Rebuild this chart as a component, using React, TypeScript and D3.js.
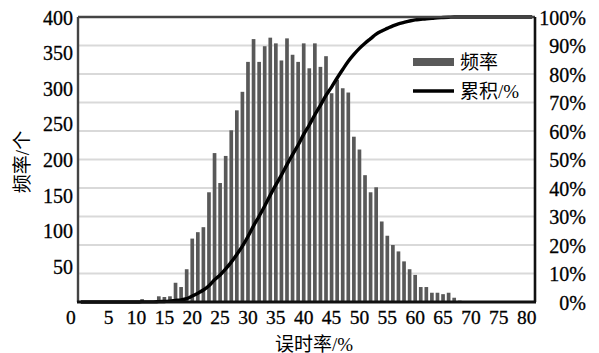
import React from 'react';
import * as d3 from 'd3';

// 误时率 categories (%), one bar per integer value
const categories = [
  0, 1, 2, 3, 4, 5, 6, 7, 8, 9, 10, 11, 12, 13, 14, 15, 16, 17, 18, 19,
  20, 21, 22, 23, 24, 25, 26, 27, 28, 29, 30, 31, 32, 33, 34, 35, 36, 37, 38, 39,
  40, 41, 42, 43, 44, 45, 46, 47, 48, 49, 50, 51, 52, 53, 54, 55, 56, 57, 58, 59,
  60, 61, 62, 63, 64, 65, 66, 67, 68, 69, 70, 71, 72, 73, 74, 75, 76, 77, 78, 79,
  80, 81,
];

// 频率 (count per category)
const frequency = [
  0, 0, 0, 0, 0, 0, 0, 0, 0, 0, 0, 4, 0, 0, 8, 7, 8, 27, 21, 46,
  89, 98, 105, 154, 209, 167, 205, 241, 269, 295, 337, 369, 337, 359, 371, 363, 339, 370, 347, 337,
  363, 328, 363, 330, 345, 293, 312, 300, 294, 232, 214, 178, 154, 161, 113, 93, 80, 71, 57, 46,
  38, 21, 21, 13, 13, 11, 13, 6, 2, 1, 1, 0, 0, 0, 0, 0, 0, 0, 0, 0,
  0, 0,
];

// 累积/% (cumulative percentage per category)
const cumulative = [
  0, 0, 0, 0, 0, 0, 0, 0, 0, 0, 0, 0.05, 0.05, 0.05, 0.13, 0.2, 0.28, 0.55, 0.76, 1.2,
  2.1, 3.1, 4.2, 5.7, 7.8, 9.5, 11.6, 14.0, 16.7, 19.6, 23.0, 26.7, 30.1, 33.7, 37.5, 41.1, 44.5, 48.2, 51.7, 55.1,
  58.8, 62.1, 65.7, 69.0, 72.5, 75.4, 78.6, 81.6, 84.5, 86.9, 89.0, 90.8, 92.4, 94.0, 95.1, 96.0, 96.9, 97.6, 98.1, 98.6,
  99.0, 99.2, 99.4, 99.5, 99.7, 99.8, 99.9, 100, 100, 100, 100, 100, 100, 100, 100, 100, 100, 100, 100, 100,
  100, 100,
];

const xTickLabels = [0, 5, 10, 15, 20, 25, 30, 35, 40, 45, 50, 55, 60, 65, 70, 75, 80];
const leftTicks = [50, 100, 150, 200, 250, 300, 350, 400];
const rightTicks = [0, 10, 20, 30, 40, 50, 60, 70, 80, 90, 100];
const gridTicks = [10, 20, 30, 40, 50, 60, 70, 80, 90];

const SERIF = 'Liberation Serif, Times New Roman, serif';
const CJK = 'Liberation Serif, Noto Sans CJK SC, serif';

export default function App() {
  const W = 599;
  const H = 353;
  const L = 78, R = 535, T = 17, B = 302;

  const pad = 0.34;
  const x = d3.scaleBand<number>()
    .domain(categories)
    .range([L, R])
    .paddingInner(pad)
    .paddingOuter(pad / 2);
  const bw = x.bandwidth();
  const cx = (c: number) => (x(c) as number) + bw / 2;

  const yL = d3.scaleLinear().domain([0, 400]).range([B, T]);
  const yR = d3.scaleLinear().domain([0, 100]).range([B, T]);

  const line = d3.line<number>()
    .x((_, i) => cx(categories[i]))
    .y((d) => yR(d))
    .curve(d3.curveMonotoneX);

  const numStyle = { stroke: '#000', strokeWidth: 0.3 };

  return (
    <svg
      width={W}
      height={H}
      viewBox={`0 0 ${W} ${H}`}
      style={{ position: 'absolute', left: 0, top: 0, background: '#fff' }}
    >
      <rect x={0} y={0} width={W} height={H} fill="#fff" />
      {gridTicks.map((t) => (
        <line key={t} x1={L} x2={R} y1={yR(t)} y2={yR(t)} stroke="#d9d9d9" strokeWidth={2} />
      ))}
      {frequency.map((v, i) =>
        v > 0 ? (
          <rect
            key={i}
            x={x(categories[i])}
            y={yL(v)}
            width={bw}
            height={B - yL(v)}
            fill="#595959"
          />
        ) : null
      )}
      <path d={line(cumulative) || ''} fill="none" stroke="#000" strokeWidth={3.4} strokeLinejoin="round" />
      <line x1={L} x2={L} y1={T} y2={B} stroke="#444" strokeWidth={2.4} />
      <line x1={L} x2={R} y1={T} y2={T} stroke="#444" strokeWidth={2.4} />
      <line x1={R} x2={R} y1={T} y2={B} stroke="#111" strokeWidth={2.6} />
      <line x1={L - 1} x2={R + 1} y1={B} y2={B} stroke="#111" strokeWidth={3} />

      {xTickLabels.map((t) => (
        <text
          key={t}
          x={cx(t)}
          y={317}
          dx={t === 0 ? -10 : 0}
          dy="0.35em"
          textAnchor="middle"
          fontFamily={SERIF}
          fontSize={19.5}
          fill="#000"
          style={numStyle}
        >
          {t}
        </text>
      ))}
      {leftTicks.map((t) => (
        <text
          key={t}
          x={73}
          y={yL(t)}
          dy="0.38em"
          textAnchor="end"
          fontFamily={SERIF}
          fontSize={20}
          fill="#000"
          style={numStyle}
        >
          {t}
        </text>
      ))}
      {rightTicks.map((t) => (
        <text
          key={t}
          x={586}
          y={yR(t)}
          dy="0.38em"
          textAnchor="end"
          fontFamily={SERIF}
          fontSize={20}
          fill="#000"
          style={numStyle}
        >
          {t}%
        </text>
      ))}

      <text
        x={314}
        y={344}
        textAnchor="middle"
        dominantBaseline="central"
        fontFamily={CJK}
        fontSize={19}
        fill="#000"
      >
        误时率/%
      </text>
      <text
        transform="translate(22,162) rotate(-90)"
        textAnchor="middle"
        dominantBaseline="central"
        fontFamily={CJK}
        fontSize={19}
        fill="#000"
      >
        频率/个
      </text>

      <rect x={413} y={58} width={41} height={8} fill="#595959" />
      <text x={460} y={62} dominantBaseline="central" fontFamily={CJK} fontSize={19} fill="#000">
        频率
      </text>
      <line x1={413} x2={454} y1={91} y2={91} stroke="#000" strokeWidth={3.6} />
      <text x={460} y={91} dominantBaseline="central" fontFamily={CJK} fontSize={19} fill="#000">
        累积/%
      </text>
    </svg>
  );
}
